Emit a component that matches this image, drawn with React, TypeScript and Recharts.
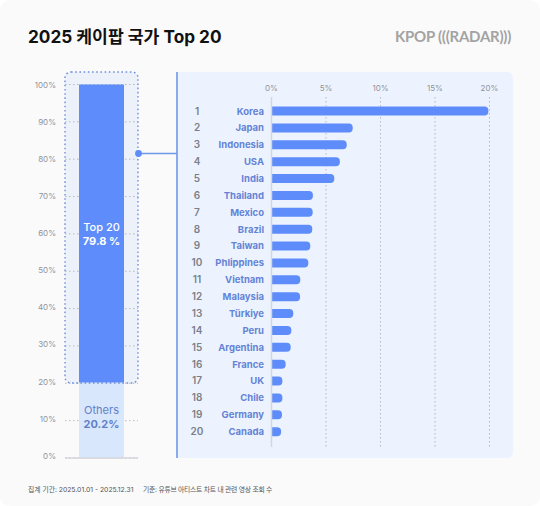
import { BarChart, Bar, XAxis, YAxis, CartesianGrid, ReferenceLine, LabelList } from "recharts";

const countries = ["Korea", "Japan", "Indonesia", "USA", "India", "Thailand", "Mexico", "Brazil", "Taiwan", "Phlippines", "Vietnam", "Malaysia", "Türkiye", "Peru", "Argentina", "France", "UK", "Chile", "Germany", "Canada"];
const shares = [19.9, 7.45, 6.9, 6.27, 5.76, 3.8, 3.78, 3.74, 3.56, 3.38, 2.64, 2.62, 2.0, 1.82, 1.76, 1.3, 1.0, 1.0, 0.96, 0.88];
const shareTicks = [0, 5, 10, 15, 20];
const totalTicks = [0, 10, 20, 30, 40, 50, 60, 70, 80, 90, 100];
const othersShare = 20.2;
const top20Share = 79.8;

const FONT = '"Inter", "Noto Sans CJK KR", sans-serif';
const BLUE = "#5e8dfb";

const rankData = countries.map((country, i) => ({ country, share: shares[i] }));
const totalData = [{ name: "all", others: othersShare, top: top20Share }];

function CountryTick({ x, y, payload, index }: any) {
  return (
    <g fontFamily={FONT} fontWeight={700}>
      <text x={20} y={y} dy={3.5} textAnchor="middle" fill="#7c7f87" fontSize={10} fontWeight={600}>{index + 1}</text>
      <text x={x} y={y} dy={3.5} textAnchor="end" fill="#6483d6" fontSize={9.5}>{payload.value}</text>
    </g>
  );
}

// the reference labels sit up to 2px above their gridlines near the bottom
function TotalTick({ x, y, payload }: any) {
  return (
    <text x={x} y={y} dy={3 - (100 - payload.value) * 0.022} textAnchor="end" fontFamily={FONT} fontSize={8} fill="#8f939b">
      {payload.value}%
    </text>
  );
}

function StackLabel({ x, y, width, height, title, pct, color, weight, shift }: any) {
  const cx = x + width / 2;
  const cy = y + height / 2 + shift;
  return (
    <g fontFamily={FONT} fontSize={11} textAnchor="middle" fill={color}>
      <text x={cx} y={cy - 3} fontWeight={weight}>{title}</text>
      <text x={cx} y={cy + 11} fontWeight={700}>{pct}</text>
    </g>
  );
}

export default function App() {
  return (
    <div style={{ position: "absolute", left: 0, top: 0, width: 540, height: 506, background: "#fff", overflow: "hidden", fontFamily: FONT }}>
      <div style={{ position: "absolute", inset: 0, background: "#fafafb", borderRadius: 10 }} />

      <div style={{ position: "absolute", left: 28, top: 23, fontSize: 17.2, fontWeight: 700, color: "#111", whiteSpace: "nowrap" }}>
        2025 케이팝 국가 Top 20
      </div>
      <div style={{ position: "absolute", left: 395, top: 27, fontFamily: "Lato", fontSize: 15, fontWeight: 700, color: "#a3a3a3", whiteSpace: "nowrap", letterSpacing: -0.25 }}>
        KPOP (((RADAR)))
      </div>

      {/* panels behind the charts */}
      <div style={{ position: "absolute", left: 65, top: 72, width: 73, height: 311, background: "#edf1fa", borderRadius: 6 }} />
      <div style={{ position: "absolute", left: 177, top: 72, width: 336, height: 386, background: "#edf3fe", borderRadius: "0 6px 6px 0" }} />

      <div style={{ position: "absolute", left: 0, top: 70 }}>
        <BarChart width={150} height={400} data={totalData} barSize={45} margin={{ top: 14.5, right: 12, bottom: 12, left: 0 }}>
          <CartesianGrid vertical={false} stroke="#b4b9c4" strokeDasharray="1.5 2.5" />
          <XAxis dataKey="name" hide />
          <YAxis
            width={65}
            domain={[0, 100]}
            ticks={totalTicks}
            interval={0}
            tickLine={false}
            axisLine={false}
            tick={(p: any) => <TotalTick {...p} x={56} />}
          />
          <ReferenceLine y={0} stroke="#d3d6db" strokeWidth={1.5} />
          <Bar dataKey="others" stackId="a" fill="#d9e7fd" isAnimationActive={false}>
            <LabelList dataKey="others" content={(p: any) => <StackLabel {...p} title="Others" pct="20.2%" color="#6180c8" weight={400} shift={-3} />} />
          </Bar>
          <Bar dataKey="top" stackId="a" fill={BLUE} isAnimationActive={false}>
            <LabelList dataKey="top" content={(p: any) => <StackLabel {...p} title="Top 20" pct="79.8 %" color="#ffffff" weight={500} shift={0} />} />
          </Bar>
        </BarChart>
      </div>

      <div style={{ position: "absolute", left: 177, top: 72 }}>
        <BarChart width={336} height={386} data={rankData} layout="vertical" barSize={9} margin={{ top: 0, right: 23.5, bottom: 11, left: 0 }}>
          <CartesianGrid horizontal={false} stroke="#b4b9c4" strokeDasharray="1.5 2.5" />
          <XAxis
            type="number"
            orientation="top"
            height={25}
            domain={[0, 20]}
            ticks={shareTicks}
            interval={0}
            tickFormatter={(v: number) => `${v}%`}
            tickLine={false}
            axisLine={false}
            tickMargin={0}
            tick={{ fontSize: 8, fill: "#8f939b", fontFamily: FONT }}
          />
          <YAxis
            type="category"
            dataKey="country"
            width={94.5}
            interval={0}
            padding={{ top: 5.6, bottom: 7 }}
            tickLine={false}
            axisLine={{ stroke: "#d3d6db", strokeWidth: 1.5 }}
            tick={(p: any) => <CountryTick {...p} x={87} />}
          />
          <Bar dataKey="share" fill={BLUE} radius={[0, 4, 4, 0]} isAnimationActive={false} />
        </BarChart>
      </div>

      {/* dotted selection box and connector */}
      <svg width={540} height={506} style={{ position: "absolute", left: 0, top: 0, pointerEvents: "none" }}>
        <rect x={65} y={72} width={73} height={311} rx={6} fill="none" stroke="#6d8fdc" strokeWidth={1.4} strokeDasharray="1.6 2.6" />
        <line x1={177} y1={72} x2={177} y2={458} stroke="#6f97e8" strokeWidth={1.6} />
        <line x1={138.5} y1={153.5} x2={177} y2={153.5} stroke="#6f97e8" strokeWidth={1.4} />
        <circle cx={138.5} cy={153.5} r={3.4} fill={BLUE} />
      </svg>

      <div style={{ position: "absolute", left: 28, top: 484, fontSize: 6.8, color: "#555", whiteSpace: "nowrap" }}>
        집계 기간: 2025.01.01 - 2025.12.31
      </div>
      <div style={{ position: "absolute", left: 143, top: 484, fontSize: 6.8, color: "#555", whiteSpace: "nowrap", letterSpacing: -0.25 }}>
        기준: 유튜브 아티스트 차트 내 관련 영상 조회 수
      </div>
    </div>
  );
}
